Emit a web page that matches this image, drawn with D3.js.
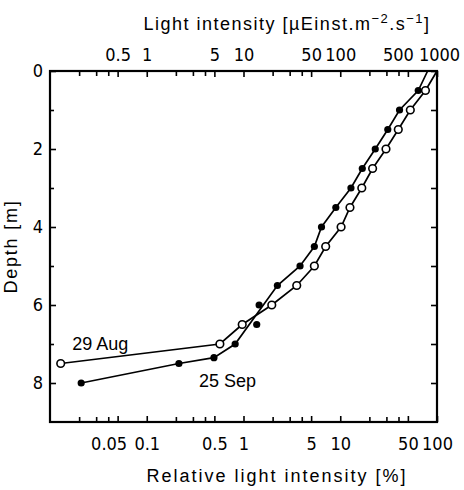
<!DOCTYPE html>
<html>
<head>
<meta charset="utf-8">
<script src="https://cdn.jsdelivr.net/npm/d3@7"></script>
<style>
  body { margin: 0; background: #fff; }
  svg { display: block; }
  .tick text { font-family: "Liberation Sans Narrow", "DejaVu Sans Condensed", "Liberation Sans", sans-serif; font-size: 18px; fill: #000; }
  .title { font-family: "Liberation Sans", Arial, sans-serif; font-size: 18px; fill: #000; }
</style>
</head>
<body>
<div id="chart"></div>
<script>
// 25 Sep (filled dots): depth [m] and relative light intensity [%]
const sepDepth = [0.5, 1, 1.5, 2, 2.5, 3, 3.5, 4, 4.5, 5, 5.5, 6, 6.5, 7, 7.35, 7.5, 8];
const sepRel = [64, 41, 31, 23, 16.9, 12.9, 9.0, 6.4, 5.4, 3.84, 2.24, 1.45, 1.37, 0.82, 0.495, 0.215, 0.021];
// line drawn through the 25 Sep profile
const sepLineDepth = [0, 0.5, 1, 1.5, 2, 2.5, 3, 3.5, 4, 4.5, 5, 5.5, 7, 7.35, 7.5, 8];
const sepLineRel = [80, 64, 41, 31, 23, 16.9, 12.9, 9.0, 6.4, 5.4, 3.84, 2.24, 0.82, 0.495, 0.215, 0.021];

// 29 Aug (open dots)
const augDepth = [0.5, 1, 1.5, 2, 2.5, 3, 3.5, 4, 4.5, 5, 5.5, 6, 6.5, 7, 7.5];
const augRel = [76, 53, 39.8, 29.7, 21.6, 16.7, 12.6, 10.2, 7.07, 5.4, 3.55, 1.96, 0.97, 0.57, 0.0129];
const augLineDepth = [0, 0.5, 1, 1.5, 2, 2.5, 3, 3.5, 4, 4.5, 5, 5.5, 6, 6.5, 7, 7.5];
const augLineRel = [100, 76, 53, 39.8, 29.7, 21.6, 16.7, 12.6, 10.2, 7.07, 5.4, 3.55, 1.96, 0.97, 0.57, 0.0129];

// tick labels
const relTicks = [0.05, 0.1, 0.5, 1, 5, 10, 50, 100];
const lightTicks = [0.5, 1, 5, 10, 50, 100, 500, 1000];
const depthTicks = [0, 2, 4, 6, 8];
const depthMinor = [1, 3, 5, 7];

const margin = { top: 71, right: 27, bottom: 68, left: 50 };
const W = 464, H = 490;
const width = W - margin.left - margin.right;
const height = H - margin.top - margin.bottom;

const svg = d3.select("#chart")
    .append("svg")
    .attr("width", W)
    .attr("height", H)
    .append("g")
    .attr("transform", `translate(${margin.left},${margin.top})`);

// Scales
const x = d3.scaleLog().domain([0.01, 100]).range([0, width]);
const xTop = d3.scaleLog().domain([0.1, 1000]).range([0, width]);
const y = d3.scaleLinear().domain([0, 9]).range([0, height]);

// minor log ticks (2..4 in each decade)
function minorTicks(lo, hi) {
    const out = [];
    for (let e = Math.log10(lo); e < Math.log10(hi); e++) {
        for (let k = 2; k <= 4; k++) out.push(k * Math.pow(10, e));
    }
    return out;
}

function styleAxis(g) {
    g.select(".domain").remove();
    g.selectAll(".tick line").attr("stroke", "#000").attr("stroke-width", 1.6);
}

// Bottom axis
svg.append("g")
    .attr("transform", `translate(0,${height})`)
    .call(d3.axisBottom(x).tickValues(relTicks).tickSize(-6).tickPadding(15).tickFormat(d => String(d)))
    .call(styleAxis)
    .call(g => g.selectAll(".tick text").filter(d => d === 0.05).attr("dx", -9));
svg.append("g")
    .attr("transform", `translate(0,${height})`)
    .call(d3.axisBottom(x).tickValues(minorTicks(0.01, 100)).tickSize(-5).tickFormat(""))
    .call(styleAxis);

// Top axis
svg.append("g")
    .call(d3.axisTop(xTop).tickValues(lightTicks).tickSize(-6).tickPadding(10).tickFormat(d => String(d)))
    .call(styleAxis)
    .call(g => g.selectAll(".tick text").filter(d => d === 500).attr("dx", -10))
    .call(g => g.selectAll(".tick text").filter(d => d === 1000).attr("dx", 2));
svg.append("g")
    .call(d3.axisTop(xTop).tickValues(minorTicks(0.1, 1000)).tickSize(-5).tickFormat(""))
    .call(styleAxis);

// Left axis
svg.append("g")
    .call(d3.axisLeft(y).tickValues(depthTicks).tickSize(-6).tickPadding(7).tickFormat(d3.format("d")))
    .call(styleAxis);
svg.append("g")
    .call(d3.axisLeft(y).tickValues(depthMinor).tickSize(-4).tickFormat(""))
    .call(styleAxis);

// Right axis
svg.append("g")
    .attr("transform", `translate(${width},0)`)
    .call(d3.axisRight(y).tickValues(depthTicks.concat(depthMinor)).tickSize(-6).tickFormat(""))
    .call(styleAxis);

// Frame
svg.append("rect")
    .attr("width", width)
    .attr("height", height)
    .attr("fill", "none")
    .attr("stroke", "#000")
    .attr("stroke-width", 2.2);

// Lines
const line = d3.line()
    .x(d => x(d[1]))
    .y(d => y(d[0]));

svg.append("path")
    .datum(d3.zip(augLineDepth, augLineRel))
    .attr("fill", "none")
    .attr("stroke", "#000")
    .attr("stroke-width", 1.7)
    .attr("d", line);

svg.append("path")
    .datum(d3.zip(sepLineDepth, sepLineRel))
    .attr("fill", "none")
    .attr("stroke", "#000")
    .attr("stroke-width", 1.7)
    .attr("d", line);

// Points
svg.selectAll(".aug-point")
    .data(d3.zip(augDepth, augRel))
    .enter().append("circle")
    .attr("class", "aug-point")
    .attr("cx", d => x(d[1]))
    .attr("cy", d => y(d[0]))
    .attr("r", 3.8)
    .attr("fill", "#fff")
    .attr("stroke", "#000")
    .attr("stroke-width", 1.6);

svg.selectAll(".sep-point")
    .data(d3.zip(sepDepth, sepRel))
    .enter().append("circle")
    .attr("class", "sep-point")
    .attr("cx", d => x(d[1]))
    .attr("cy", d => y(d[0]))
    .attr("r", 3.6)
    .attr("fill", "#000");

// Series labels
svg.append("text")
    .attr("class", "title")
    .attr("x", x(0.017))
    .attr("y", y(7.15))
    .text("29 Aug");

svg.append("text")
    .attr("class", "title")
    .attr("x", x(0.347))
    .attr("y", y(8.1))
    .text("25 Sep");

// Axis titles
svg.append("text")
    .attr("class", "title")
    .attr("x", 227)
    .attr("y", height + 60)
    .attr("text-anchor", "middle")
    .style("letter-spacing", "2px")
    .text("Relative light intensity [%]");

const topTitle = svg.append("text")
    .attr("class", "title")
    .attr("x", 237)
    .attr("y", -41)
    .attr("text-anchor", "middle")
    .style("letter-spacing", "1.5px");
topTitle.append("tspan").text("Light intensity [\u00b5Einst.m");
topTitle.append("tspan").attr("dy", -7).style("font-size", "13px").text("\u22122");
topTitle.append("tspan").attr("dy", 7).text(".s");
topTitle.append("tspan").attr("dy", -7).style("font-size", "13px").text("\u22121");
topTitle.append("tspan").attr("dy", 7).text("]");

svg.append("text")
    .attr("class", "title")
    .attr("transform", `translate(${-33},${height / 2}) rotate(-90)`)
    .attr("text-anchor", "middle")
    .style("letter-spacing", "1.8px")
    .text("Depth [m]");
</script>
</body>
</html>
